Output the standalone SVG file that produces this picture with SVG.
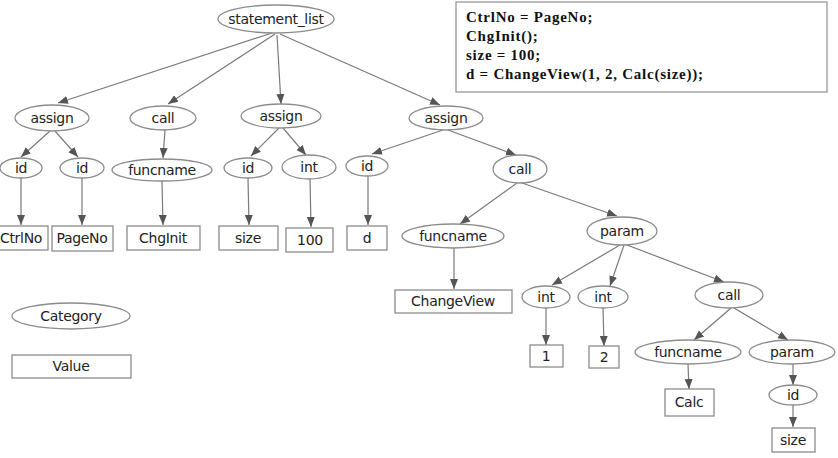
<svg xmlns="http://www.w3.org/2000/svg" width="838" height="458" viewBox="0 0 838 458">
<style>
.n ellipse,.n rect{fill:#fff;stroke:#8c8c8c;stroke-width:1.3}
.n text{font-family:"DejaVu Sans",Verdana,sans-serif;font-size:14px;fill:#222;text-anchor:middle;dominant-baseline:central;letter-spacing:-0.3px}
.e line{stroke:#7a7a7a;stroke-width:1.2;marker-end:url(#ah)}
.code text{font-family:"Liberation Serif","Times New Roman",serif;font-weight:bold;font-size:15px;letter-spacing:0.75px;fill:#111}
</style>
<defs>
<marker id="ah" markerUnits="userSpaceOnUse" markerWidth="10" markerHeight="10" viewBox="0 0 10 10" refX="10" refY="5" orient="auto">
<path d="M0,1 L10,5 L0,9 Z" fill="#555"/>
</marker>
</defs>
<rect width="838" height="458" fill="#fff"/>
<g class="e" id="connectors">
<line x1="272" y1="33" x2="58" y2="103"/>
<line x1="275" y1="34" x2="168" y2="104"/>
<line x1="277" y1="35" x2="281" y2="104"/>
<line x1="280" y1="34" x2="440" y2="105"/>
<line x1="50" y1="131" x2="21" y2="157"/>
<line x1="55" y1="131" x2="78" y2="157"/>
<line x1="165" y1="130" x2="163" y2="158"/>
<line x1="279" y1="128" x2="251" y2="156"/>
<line x1="283" y1="128" x2="306" y2="155"/>
<line x1="443" y1="130" x2="372" y2="154"/>
<line x1="448" y1="130" x2="516" y2="155"/>
<line x1="21" y1="178" x2="21" y2="225"/>
<line x1="82" y1="178" x2="82" y2="225"/>
<line x1="162" y1="181" x2="163" y2="225"/>
<line x1="248" y1="178" x2="249" y2="225"/>
<line x1="310" y1="179" x2="311" y2="227"/>
<line x1="368" y1="176" x2="368" y2="225"/>
<line x1="517" y1="183" x2="460" y2="224"/>
<line x1="522" y1="183" x2="617" y2="216"/>
<line x1="454" y1="248" x2="454" y2="289"/>
<line x1="620" y1="245" x2="552" y2="285"/>
<line x1="624" y1="245" x2="610" y2="286"/>
<line x1="627" y1="245" x2="724" y2="282"/>
<line x1="546" y1="308" x2="546" y2="345"/>
<line x1="603" y1="308" x2="604" y2="346"/>
<line x1="731" y1="308" x2="694" y2="340"/>
<line x1="734" y1="308" x2="788" y2="340"/>
<line x1="688" y1="364" x2="689" y2="389"/>
<line x1="793" y1="364" x2="793" y2="385"/>
<line x1="793" y1="404" x2="793" y2="427"/>
</g>
<g class="n" id="n_statement_list"><ellipse cx="276" cy="19" rx="58" ry="14"/><text x="276" y="19">statement_list</text></g>
<g class="n" id="n_assign1"><ellipse cx="52" cy="118" rx="37" ry="13"/><text x="52" y="118">assign</text></g>
<g class="n" id="n_call1"><ellipse cx="163" cy="118" rx="33" ry="12"/><text x="163" y="118">call</text></g>
<g class="n" id="n_assign2"><ellipse cx="281" cy="116" rx="40" ry="12"/><text x="281" y="116">assign</text></g>
<g class="n" id="n_assign3"><ellipse cx="446" cy="118" rx="37" ry="12"/><text x="446" y="118">assign</text></g>
<g class="n" id="n_id1"><ellipse cx="21" cy="168" rx="21" ry="10"/><text x="21" y="168">id</text></g>
<g class="n" id="n_id2"><ellipse cx="82" cy="168" rx="22" ry="10"/><text x="82" y="168">id</text></g>
<g class="n" id="n_funcname1"><ellipse cx="162" cy="170" rx="50" ry="11"/><text x="162" y="170">funcname</text></g>
<g class="n" id="n_id3"><ellipse cx="248" cy="168" rx="24" ry="10"/><text x="248" y="168">id</text></g>
<g class="n" id="n_int1"><ellipse cx="309" cy="167" rx="27" ry="12"/><text x="309" y="167">int</text></g>
<g class="n" id="n_id4"><ellipse cx="367" cy="166" rx="21" ry="10"/><text x="367" y="166">id</text></g>
<g class="n" id="n_CtrlNo"><rect x="-3" y="226" width="51" height="24"/><text x="21" y="238">CtrlNo</text></g>
<g class="n" id="n_PageNo"><rect x="52" y="226" width="61" height="25"/><text x="82" y="238">PageNo</text></g>
<g class="n" id="n_ChgInit"><rect x="127" y="226" width="73" height="24"/><text x="163" y="238">ChgInit</text></g>
<g class="n" id="n_size1"><rect x="219" y="226" width="59" height="24"/><text x="248" y="238">size</text></g>
<g class="n" id="n_100"><rect x="286" y="228" width="47" height="24"/><text x="310" y="240">100</text></g>
<g class="n" id="n_d"><rect x="347" y="226" width="40" height="24"/><text x="367" y="238">d</text></g>
<g class="n" id="n_call2"><ellipse cx="520" cy="169" rx="27" ry="14"/><text x="520" y="169">call</text></g>
<g class="n" id="n_funcname2"><ellipse cx="453" cy="236" rx="51" ry="12"/><text x="453" y="236">funcname</text></g>
<g class="n" id="n_param1"><ellipse cx="622" cy="231" rx="35" ry="14"/><text x="622" y="231">param</text></g>
<g class="n" id="n_ChangeView"><rect x="395" y="290" width="117" height="23"/><text x="453" y="301">ChangeView</text></g>
<g class="n" id="n_int2"><ellipse cx="546" cy="297" rx="24" ry="11"/><text x="546" y="297">int</text></g>
<g class="n" id="n_int3"><ellipse cx="603" cy="297" rx="25" ry="11"/><text x="603" y="297">int</text></g>
<g class="n" id="n_call3"><ellipse cx="729" cy="295" rx="34" ry="13"/><text x="729" y="295">call</text></g>
<g class="n" id="n_1"><rect x="530" y="345" width="33" height="22"/><text x="546" y="356">1</text></g>
<g class="n" id="n_2"><rect x="589" y="346" width="30" height="22"/><text x="604" y="357">2</text></g>
<g class="n" id="n_funcname3"><ellipse cx="688" cy="352" rx="53" ry="12"/><text x="688" y="352">funcname</text></g>
<g class="n" id="n_param2"><ellipse cx="792" cy="352" rx="43" ry="12"/><text x="792" y="352">param</text></g>
<g class="n" id="n_Calc"><rect x="665" y="389" width="49" height="27"/><text x="689" y="402">Calc</text></g>
<g class="n" id="n_id5"><ellipse cx="793" cy="395" rx="24" ry="10"/><text x="793" y="395">id</text></g>
<g class="n" id="n_size2"><rect x="772" y="428" width="43" height="24"/><text x="793" y="440">size</text></g>
<g class="n" id="legend_category"><ellipse cx="71" cy="316" rx="59" ry="13"/><text x="71" y="316">Category</text></g>
<g class="n" id="legend_value"><rect x="12" y="355" width="119" height="23"/><text x="71" y="366">Value</text></g>
<g class="code" id="code_box">
<rect x="456" y="2" width="371" height="90" fill="#fff" stroke="#999" stroke-width="1.3"/>
<text x="466" y="22">CtrlNo = PageNo;</text>
<text x="466" y="41">ChgInit();</text>
<text x="466" y="60">size = 100;</text>
<text x="466" y="79">d = ChangeView(1, 2, Calc(size));</text>
</g>
</svg>
